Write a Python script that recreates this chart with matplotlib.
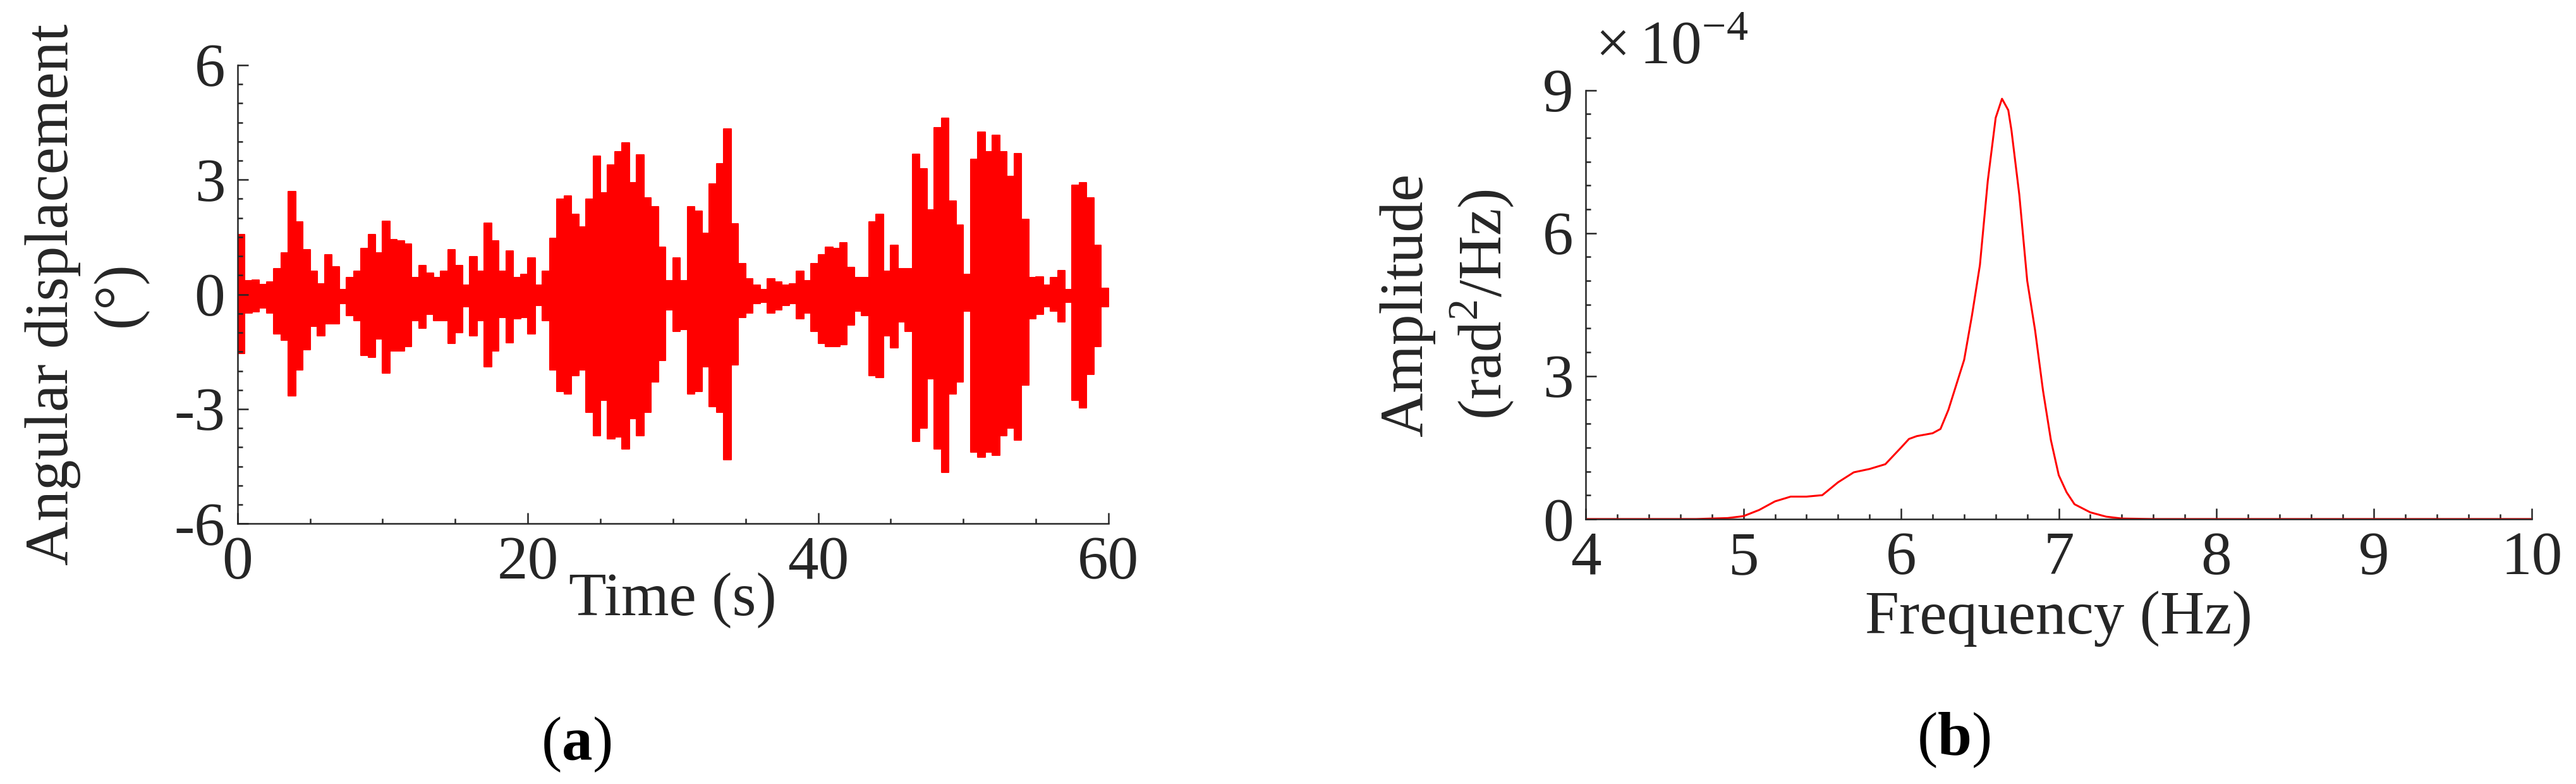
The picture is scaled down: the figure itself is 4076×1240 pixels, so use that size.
import numpy as np
import matplotlib
matplotlib.use('Agg')
import matplotlib.pyplot as plt
from matplotlib.ticker import MultipleLocator, FuncFormatter

matplotlib.rcParams['font.family'] = 'Liberation Serif'
matplotlib.rcParams['mathtext.fontset'] = 'custom'
matplotlib.rcParams['mathtext.rm'] = 'Liberation Serif'
matplotlib.rcParams['mathtext.bf'] = 'Liberation Serif:bold'

## (a) angular displacement envelope, 0.5 s bins (deg)
bin_width = 0.5
upper_env = [
    1.56, 0.36, 0.38, 0.26, 0.32, 0.68, 1.08, 2.69, 1.89, 1.16,
    0.60, 0.28, 1.04, 0.72, 0.12, 0.44, 0.60, 1.20, 1.56, 1.08,
    1.91, 1.44, 1.40, 1.31, 0.44, 0.76, 0.56, 0.44, 0.60, 1.16,
    0.76, 0.24, 0.99, 0.60, 1.87, 1.40, 0.60, 1.14, 0.44, 0.52,
    0.96, 0.24, 0.60, 1.47, 2.49, 2.57, 2.10, 1.77, 2.49, 3.61,
    2.65, 3.39, 3.73, 3.97, 2.93, 3.65, 2.53, 2.29, 1.24, 0.36,
    0.96, 0.36, 2.29, 2.17, 1.60, 2.89, 3.41, 4.33, 1.85, 0.80,
    0.40, 0.24, 0.12, 0.40, 0.32, 0.24, 0.28, 0.60, 0.36, 0.80,
    1.04, 1.24, 1.20, 1.35, 0.70, 0.44, 0.44, 1.89, 2.09, 0.60,
    1.28, 0.68, 0.68, 3.67, 3.29, 2.21, 4.36, 4.61, 2.45, 1.81,
    0.52, 3.53, 4.25, 3.73, 4.17, 3.73, 3.09, 3.69, 1.97, 0.44,
    0.46, 0.24, 0.44, 0.62, 0.12, 2.85, 2.93, 2.53, 1.28, 0.16,
]
lower_env = [
    -1.55, -0.48, -0.46, -0.36, -0.48, -1.04, -1.20, -2.65, -1.97, -1.44,
    -0.84, -1.08, -0.76, -0.76, -0.24, -0.56, -0.68, -1.60, -1.65, -1.16,
    -2.05, -1.48, -1.48, -1.36, -0.68, -0.88, -0.52, -0.68, -0.68, -1.28,
    -1.00, -0.32, -1.08, -0.68, -1.89, -1.48, -0.60, -1.26, -0.64, -0.60,
    -1.04, -0.28, -0.68, -1.97, -2.53, -2.61, -2.13, -1.97, -3.09, -3.69,
    -2.77, -3.77, -3.73, -4.05, -3.25, -3.69, -3.09, -2.29, -1.73, -0.40,
    -0.96, -0.92, -2.61, -2.53, -1.89, -2.93, -3.09, -4.33, -1.85, -0.60,
    -0.48, -0.24, -0.20, -0.48, -0.40, -0.28, -0.24, -0.64, -0.48, -0.96,
    -1.28, -1.36, -1.36, -1.32, -0.80, -0.44, -0.56, -2.13, -2.17, -1.08,
    -1.40, -0.72, -0.96, -3.85, -3.49, -2.21, -4.05, -4.65, -2.61, -2.29,
    -0.44, -4.13, -4.25, -4.13, -4.21, -3.69, -3.49, -3.81, -2.37, -0.64,
    -0.52, -0.32, -0.44, -0.72, -0.20, -2.77, -2.97, -2.09, -1.36, -0.32,
]

## (b) spectrum (x1e-4 rad^2/Hz)
freq = [4.0, 4.7, 4.9, 5.0, 5.1, 5.2, 5.3, 5.4, 5.5, 5.6, 5.7, 5.8, 5.9,
        6.0, 6.05, 6.1, 6.2, 6.25, 6.3, 6.4, 6.45, 6.5, 6.55, 6.6, 6.64,
        6.68, 6.7, 6.75, 6.8, 6.85, 6.9, 6.95, 7.0, 7.05, 7.1, 7.2, 7.3,
        7.4, 7.6, 10.0]
amp = [0.0, 0.0, 0.02, 0.06, 0.19, 0.37, 0.47, 0.47, 0.50, 0.77, 0.98,
       1.05, 1.15, 1.50, 1.68, 1.74, 1.80, 1.89, 2.29, 3.34, 4.28, 5.33,
       7.10, 8.42, 8.82, 8.58, 8.16, 6.80, 5.00, 3.96, 2.70, 1.66, 0.92,
       0.56, 0.31, 0.14, 0.05, 0.01, 0.0, 0.0]

FS = 70
axis_color = '#262626'

fig = plt.figure(figsize=(40.76, 12.4), dpi=100)
ax_a = fig.add_axes([0.0922, 0.332, 0.3381, 0.585])
ax_b = fig.add_axes([0.6156, 0.338, 0.3672, 0.547])

# matlab style hyphen minus
hyphen_fmt = FuncFormatter(lambda v, pos: ('%g' % v).replace('\u2212', '-'))


def style_axis(ax):
    for side in ['top', 'right']:
        ax.spines[side].set_visible(False)
    for side in ['left', 'bottom']:
        ax.spines[side].set_linewidth(1.8)
        ax.spines[side].set_color(axis_color)
    ax.tick_params(which='both', direction='in', colors=axis_color,
                   labelsize=FS, width=1.8, pad=14)
    ax.tick_params(which='major', length=12)
    ax.tick_params(which='minor', length=6)
    ax.xaxis.set_major_formatter(hyphen_fmt)
    ax.yaxis.set_major_formatter(hyphen_fmt)


# panel (a)
t_edges = np.arange(len(upper_env) + 1) * bin_width
upper_steps = np.append(upper_env, upper_env[-1])
lower_steps = np.append(lower_env, lower_env[-1])
ax_a.fill_between(t_edges, lower_steps, upper_steps, step='post',
                  color='#ff0000', linewidth=1.5, edgecolor='#ff0000')
ax_a.set_xlim(0, 60)
ax_a.set_ylim(-6, 6)
ax_a.set_xticks([0, 20, 40, 60])
ax_a.set_yticks([-6, -3, 0, 3, 6])
ax_a.xaxis.set_minor_locator(MultipleLocator(5))
ax_a.yaxis.set_minor_locator(MultipleLocator(0.5))
style_axis(ax_a)
ax_a.set_xlabel('Time (s)', fontsize=FS, color=axis_color, labelpad=-22)
ax_a.set_ylabel('Angular displacement\n(°)', fontsize=FS, color=axis_color,
                linespacing=1.25, labelpad=30)

# panel (b)
ax_b.plot(freq, amp, color='#ff0000', linewidth=2.2)
ax_b.set_xlim(4, 10)
ax_b.set_ylim(0, 9)
ax_b.set_xticks(range(4, 11))
ax_b.set_yticks([0, 3, 6, 9])
ax_b.xaxis.set_minor_locator(MultipleLocator(0.2))
ax_b.yaxis.set_minor_locator(MultipleLocator(0.5))
style_axis(ax_b)
ax_b.set_xlabel('Frequency (Hz)', fontsize=FS, color=axis_color, labelpad=4)
ax_b.set_ylabel('Amplitude\n(rad$^2$/Hz)', fontsize=FS, color=axis_color,
                linespacing=1.25, labelpad=30)
ax_b.text(0.01, 1.03, r'$\times\,10^{-4}$', transform=ax_b.transAxes,
          fontsize=FS, color=axis_color, ha='left', va='bottom')

fig.text(0.2237, 0.05, r'($\mathbf{a}$)', fontsize=FS, ha='center', va='center')
fig.text(0.7583, 0.056, r'($\mathbf{b}$)', fontsize=FS, ha='center', va='center')

fig.savefig('out.png', dpi=100)
plt.close('all')
